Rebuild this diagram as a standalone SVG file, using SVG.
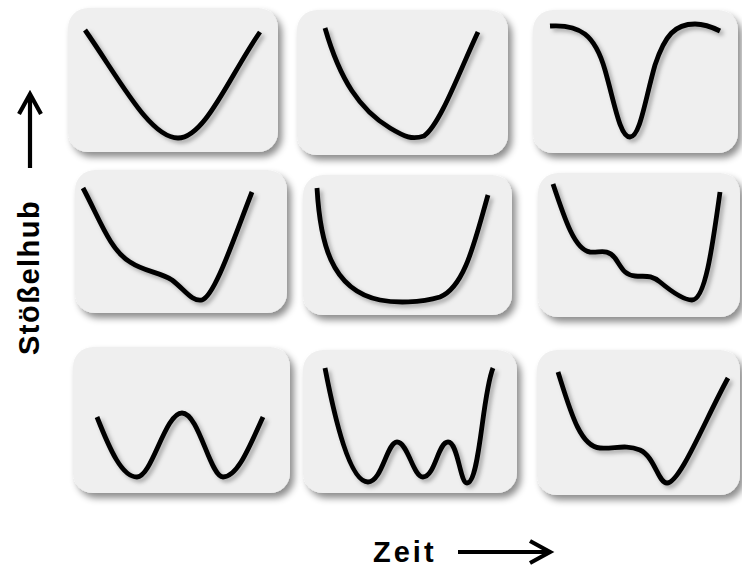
<svg xmlns="http://www.w3.org/2000/svg" width="742" height="568" viewBox="0 0 742 568">
<defs>
<filter id="ps" x="-10%" y="-10%" width="125%" height="130%">
<feDropShadow dx="4" dy="5" stdDeviation="3.5" flood-color="#000" flood-opacity="0.45"/>
</filter>
<filter id="cs" x="-10%" y="-10%" width="125%" height="125%">
<feDropShadow dx="3" dy="3" stdDeviation="2" flood-color="#000" flood-opacity="0.3"/>
</filter>
</defs>
<style>
.panel{fill:#efefef;filter:url(#ps)}
.curve{fill:none;stroke:#000;stroke-width:4.8;stroke-linecap:butt;stroke-linejoin:round;filter:url(#cs)}
.lbl{font-family:"Liberation Sans",Arial,sans-serif;font-weight:bold;font-size:29px;fill:#000}
.ax{fill:none;stroke:#000;stroke-width:4.2}
</style>
<rect width="742" height="568" fill="#fff"/>
<g id="n1"><rect class="panel" x="68" y="8" width="210" height="144" rx="20"/><path class="curve" d="M85,30 C120,80 150,138 178,138 C205,138 230,75 260,32"/></g>
<g id="n2"><rect class="panel" x="297" y="10" width="211" height="145" rx="20"/><path class="curve" d="M325,28 C340,80 360,110 390,128 C405,137 412,140 424,136 C440,125 460,70 478,32"/></g>
<g id="n3"><rect class="panel" x="533" y="10" width="205" height="143" rx="20"/><path class="curve" d="M550,26 C580,24 595,35 605,70 C615,105 620,137 630,137 C640,137 645,100 655,65 C665,35 675,24 695,24 C705,24 712,27 720,31"/></g>
<g id="n4"><rect class="panel" x="75" y="170" width="212" height="143" rx="20"/><path class="curve" d="M83,188 C100,220 110,250 130,262 C145,272 160,272 172,280 C185,290 192,302 202,300 C215,296 235,235 252,192"/></g>
<g id="n5"><rect class="panel" x="303" y="175" width="209" height="140" rx="20"/><path class="curve" d="M317,188 C320,240 330,290 380,300 C395,303 420,303 440,297 C465,287 475,240 488,195"/></g>
<g id="n6"><rect class="panel" x="538" y="173" width="202" height="144" rx="20"/><path class="curve" d="M553,184 C565,220 575,250 590,252 C600,253 607,248 615,258 C622,268 624,275 635,276 C645,277 650,274 660,282 C672,292 685,300 692,300 C705,300 712,250 720,192"/></g>
<g id="n7"><rect class="panel" x="73" y="347" width="217" height="146" rx="20"/><path class="curve" d="M97,417 C110,450 122,477 137,477 C152,477 165,413 182,413 C199,413 210,477 223,477 C238,477 250,445 263,417"/></g>
<g id="n8"><rect class="panel" x="303" y="350" width="214" height="143" rx="20"/><path class="curve" d="M325,368 C335,420 350,482 368,482 C382,482 387,442 397,442 C408,442 413,477 423,477 C435,477 438,442 448,442 C458,442 460,483 467,483 C480,483 482,395 493,368"/></g>
<g id="n9"><rect class="panel" x="537" y="350" width="203" height="145" rx="20"/><path class="curve" d="M558,372 C570,410 580,447 600,448 C615,449 625,444 640,450 C655,457 658,483 667,483 C680,483 705,420 728,378"/></g>
<g id="connectors">
<path class="ax" d="M30,168 L30,94 M19,114 L30,94 L41,114"/>
<path class="ax" d="M458,552 L550,552 M530,541 L550,552 L530,563"/>
</g>
<g id="labels">
<text class="lbl" transform="translate(39,355) rotate(-90)" letter-spacing="1.5">Stößelhub</text>
<text class="lbl" x="373" y="562" font-size="28" letter-spacing="3">Zeit</text>
</g>
</svg>
